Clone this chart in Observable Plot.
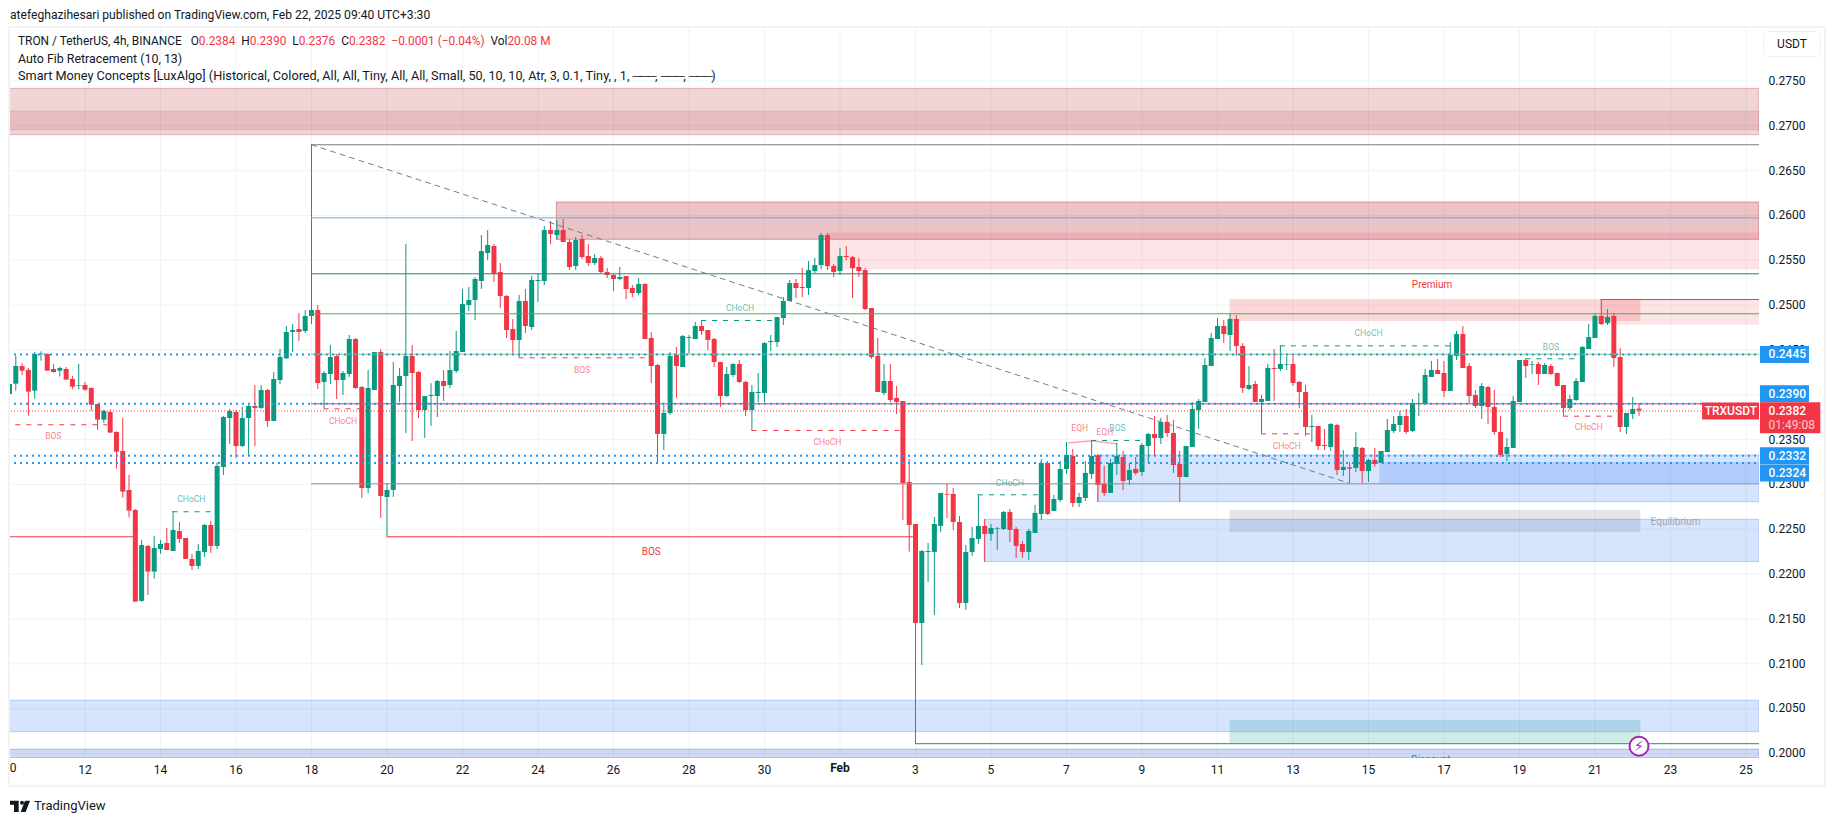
<!DOCTYPE html>
<html><head><meta charset="utf-8">
<script src="https://cdn.jsdelivr.net/npm/d3@7"></script>
<script src="https://cdn.jsdelivr.net/npm/@observablehq/plot@0.6"></script>
<style>
html,body{margin:0;padding:0;background:#fff;width:1835px;height:821px;overflow:hidden;font-family:Roboto,sans-serif;color:#131722}
#top{height:26px;line-height:30px;padding-left:10px;font-size:12.1px;color:#131722;white-space:nowrap}
#wrap{position:relative;width:1835px;height:764px}
#wrap svg{display:block}
#frame{position:absolute;left:8px;top:0;width:1818px;height:761px;box-sizing:border-box;border:2px solid #f3f3f3;pointer-events:none}
#legend{position:absolute;left:18px;top:7px;line-height:17px;white-space:pre;color:#131722}
#legend b{font-weight:400;color:#f23645}
#legend i{font-style:normal;letter-spacing:-1.5px}
#legend div:nth-child(1){font-size:11.9px}
#legend div:nth-child(2){font-size:12.4px}
#legend div:nth-child(3){font-size:12.7px}
#unit{position:absolute;left:1763px;top:5px;width:58px;height:26px;box-sizing:border-box;border:1px solid #eeeff2;border-radius:5px;text-align:center;font-size:12px;line-height:25px}
#foot{height:31px;display:flex;align-items:center;padding-left:10px;font-size:13px;color:#131722;gap:4px}
</style></head><body>
<div id="top">atefeghazihesari published on TradingView.com, Feb 22, 2025 09:40 UTC+3:30</div>
<div id="wrap">
<div id="legend"><div>TRON / TetherUS, 4h, BINANCE   O<b>0.2384</b>  H<b>0.2390</b>  L<b>0.2376</b>  C<b>0.2382</b>  <b>−0.0001 (−0.04%)</b>  Vol<b>20.08 M</b></div><div>Auto Fib Retracement (10, 13)</div><div>Smart Money Concepts [LuxAlgo] (Historical, Colored, All, All, Tiny, All, All, Small, 50, 10, 10, Atr, 3, 0.1, Tiny, , 1, <i>───</i>, <i>───</i>, <i>───</i>)</div></div>
<div id="unit">USDT</div>
<div id="frame"></div>
</div>
<div id="foot"><svg width="20" height="14" viewBox="0 0 30 20"><path d="M13 2H0v6h6v11h7zM30 2h-7.5l-6.5 17h7.5z" fill="#131722"/><circle cx="18" cy="5" r="3" fill="#131722"/></svg><span>TradingView</span></div>
<script>
// ---- candles, 4h bars from Jan 10 (one bar every 4 hours, 6 bars per day) ----
const open=[
.24004,.24119,.24316,.24271,.24041,.24446,.24450,.24283,.24264,.24283,
.24171,.24097,.24104,.24071,.23892,.23718,.23803,.23580,.23368,.22933,
.22710,.21696,.22309,.22023,.22275,.22342,.22253,.22476,.22398,.22164,
.22086,.22242,.22543,.22309,.23190,.23736,.23803,.23424,.23736,.23870,
.23848,.24048,.23703,.24160,.24402,.24695,.24729,.24706,.24874,.24940,
.24138,.24227,.24427,.24160,.24227,.24617,.24082,.22955,.24048,.24472,
.22855,.22933,.24093,.24204,.24427,.24249,.23825,.23981,.23981,.24149,
.24104,.24260,.24472,.24996,.25052,.25264,.25576,.25654,.25364,.25096,
.24729,.24606,.25041,.24751,.25264,.25264,.25832,.25777,.25832,.25699,
.25431,.25732,.25543,.25464,.25520,.25364,.25331,.25286,.25320,.25186,
.25130,.25230,.24628,.24327,.23558,.23792,.24439,.24305,.24628,.24617,
.24762,.24717,.24617,.24361,.23981,.24216,.24338,.24138,.23825,.24015,
.24015,.24583,.24583,.24851,.25041,.25241,.25197,.25186,.25375,.25442,
.25777,.25431,.25375,.25543,.25531,.25420,.25386,.24963,.24427,.24015,
.24149,.23959,.23926,.23022,.22554,.21450,.22242,.22242,.22532,.22889,
.22889,.22576,.21673,.22242,.22387,.22532,.22443,.22502,.22498,.22688,
.22499,.22331,.22242,.22454,.22666,.23234,.22699,.22822,.23168,.23313,
.22788,.22844,.23112,.23320,.23000,.22900,.23223,.23301,.23045,.23168,
.23134,.23424,.23558,.23513,.23692,.23569,.23223,.23078,.23413,.23825,
.23915,.24316,.24617,.24762,.24662,.24840,.24539,.24060,.24115,.23915,
.23926,.24294,.24283,.24331,.24338,.24138,.24026,.23636,.23647,.23435,
.23413,.23658,.23156,.23186,.23179,.23402,.23145,.23268,.23234,.23357,
.23591,.23658,.23758,.23591,.23892,.23892,.24193,.24271,.24238,.24037,
.24428,.24673,.24316,.23993,.23870,.24082,.23859,.23580,.23335,.23402,
.23915,.24383,.24331,.24338,.24227,.24316,.24238,.24104,.23848,.23937,
.24138,.24506,.24628,.24874,.24796,.24874,.24416,.23636,.23781,.23840];
const close=[
.24115,.24316,.24264,.24030,.24450,.24454,.24264,.24249,.24294,.24164,
.24086,.24104,.24052,.23885,.23718,.23814,.23573,.23361,.22915,.22703,
.21688,.22320,.22023,.22287,.22331,.22264,.22487,.22387,.22164,.22086,
.22253,.22543,.22309,.23201,.23747,.23814,.23424,.23736,.23870,.23848,
.24048,.23703,.24171,.24416,.24695,.24717,.24695,.24874,.24940,.24126,
.24238,.24416,.24160,.24238,.24617,.24071,.22955,.24071,.24472,.22866,
.22933,.24104,.24204,.24427,.24238,.23825,.23981,.23993,.24149,.24093,
.24271,.24483,.25007,.25052,.25286,.25598,.25665,.25342,.25096,.24717,
.24606,.25041,.24762,.25275,.25275,.25832,.25788,.25832,.25699,.25420,
.25721,.25531,.25464,.25520,.25364,.25331,.25286,.25308,.25175,.25130,
.25230,.24617,.24316,.23558,.23792,.24427,.24316,.24650,.24639,.24762,
.24706,.24606,.24361,.23981,.24227,.24338,.24138,.23825,.24026,.24026,
.24572,.24595,.24862,.25041,.25241,.25186,.25186,.25386,.25442,.25777,
.25431,.25364,.25543,.25531,.25409,.25375,.24952,.24416,.24026,.24149,
.23937,.23915,.23011,.22543,.21450,.22253,.22253,.22554,.22900,.22881,
.22576,.21673,.22242,.22398,.22532,.22443,.22509,.22509,.22688,.22487,
.22309,.22242,.22476,.22677,.23234,.22666,.22833,.23168,.23324,.22788,
.22855,.23123,.23313,.22989,.22900,.23234,.23313,.23034,.23156,.23123,
.23435,.23558,.23513,.23692,.23569,.23212,.23078,.23424,.23837,.23926,
.24327,.24628,.24762,.24673,.24840,.24539,.24071,.24104,.23915,.23948,
.24294,.24283,.24338,.24338,.24126,.24026,.23636,.23647,.23424,.23424,
.23669,.23156,.23190,.23171,.23413,.23145,.23268,.23223,.23368,.23602,
.23669,.23758,.23580,.23903,.23903,.24216,.24271,.24227,.24037,.24439,
.24673,.24294,.23981,.23870,.24093,.23859,.23580,.23324,.23413,.23926,
.24383,.24316,.24338,.24227,.24327,.24227,.24093,.23848,.23948,.24149,
.24528,.24639,.24874,.24784,.24862,.24405,.23636,.23792,.23837,.23820];
const high=[
.24123,.24428,.24346,.24294,.24472,.24480,.24457,.24338,.24309,.24305,
.24205,.24338,.24138,.24078,.23892,.23833,.23833,.23588,.23736,.23101,
.22721,.22376,.22320,.22420,.22376,.22510,.22699,.22576,.22398,.22220,
.22331,.22554,.22588,.23242,.23759,.23837,.23825,.23859,.23881,.24104,
.24104,.24060,.24249,.24506,.24762,.24784,.24907,.24940,.26789,.24996,
.24260,.24550,.24450,.24260,.24662,.24628,.24093,.24271,.24472,.24505,
.23011,.24361,.24294,.25676,.24550,.24260,.23981,.24126,.24160,.24271,
.24483,.24706,.25175,.25197,.25308,.25777,.25832,.25676,.25464,.25108,
.24840,.25108,.25175,.25320,.25353,.25877,.25933,.25944,.25955,.25732,
.25754,.25777,.25676,.25565,.25543,.25409,.25342,.25420,.25320,.25219,
.25297,.25241,.24695,.24338,.23881,.24472,.24528,.24662,.24662,.24807,
.24829,.24717,.24628,.24361,.24305,.24349,.24383,.24149,.24104,.24238,
.24583,.24662,.24862,.25085,.25275,.25286,.25409,.25487,.25520,.25799,
.25799,.25453,.25632,.25654,.25543,.25520,.25409,.24963,.24628,.24338,
.24338,.24093,.23926,.23279,.22554,.22264,.22342,.22632,.22900,.23000,
.22955,.22643,.22320,.22521,.22889,.22610,.22554,.22521,.22699,.22722,
.22521,.22365,.22499,.22766,.23279,.23257,.22878,.23257,.23469,.23391,
.22900,.23257,.23491,.23335,.23201,.23279,.23458,.23368,.23234,.23301,
.23458,.23569,.23759,.23736,.23770,.23714,.23368,.23424,.23915,.23948,
.24405,.24684,.24851,.24829,.24903,.24885,.24572,.24316,.24149,.23993,
.24338,.24506,.24546,.24428,.24428,.24149,.24104,.23770,.23647,.23614,
.23680,.23669,.23379,.23245,.23580,.23413,.23279,.23402,.23368,.23725,
.23758,.23814,.23837,.23948,.24015,.24283,.24372,.24394,.24372,.24584,
.24706,.24762,.24349,.24048,.24126,.24093,.24048,.23758,.23513,.23981,
.24383,.24394,.24372,.24361,.24349,.24338,.24238,.24104,.23993,.24182,
.24539,.24784,.24907,.25063,.24952,.24907,.24517,.23792,.23970,.23900];
const low=[
.24004,.24041,.24216,.23762,.23952,.24375,.24264,.24242,.24197,.24164,
.24056,.24056,.24041,.23818,.23606,.23680,.23573,.23171,.22848,.22625,
.21688,.21688,.21762,.21945,.22220,.22264,.22253,.22342,.22164,.22041,
.22052,.22186,.22231,.22275,.23101,.23446,.23290,.23413,.23312,.23424,
.23837,.23636,.23703,.24115,.24394,.24472,.24595,.24684,.24784,.24059,
.23844,.24115,.23948,.23993,.24193,.24059,.22844,.22900,.24048,.22621,
.22416,.22855,.23915,.23569,.23480,.23736,.23513,.23647,.23747,.23926,
.24071,.24238,.24472,.24929,.24829,.25175,.25498,.25253,.24963,.24628,
.24461,.24416,.24684,.24717,.25030,.25219,.25676,.25721,.25699,.25386,
.25386,.25509,.25431,.25442,.25353,.25297,.25152,.25275,.25063,.25085,
.25108,.24617,.24126,.23234,.23379,.23770,.23959,.24305,.24457,.24617,
.24662,.24494,.24305,.23859,.23970,.24193,.24126,.23758,.23602,.23915,
.23915,.24483,.24528,.24773,.25041,.25074,.25085,.25108,.25353,.25398,
.25386,.25308,.25331,.25498,.25074,.25308,.24940,.24394,.24026,.23993,
.23915,.23781,.22599,.22246,.20108,.20982,.21907,.21539,.22465,.22621,
.22487,.21617,.21595,.22197,.22331,.22130,.22365,.22264,.22487,.22354,
.22175,.22175,.22153,.22454,.22599,.22655,.22699,.22800,.23112,.22744,
.22744,.22811,.23056,.22800,.22867,.22900,.23101,.22933,.22989,.23101,
.23090,.23234,.23324,.23446,.23524,.23123,.22800,.23078,.23413,.23614,
.23915,.24316,.24617,.24572,.24483,.24428,.24015,.24048,.23915,.23565,
.23926,.23926,.24260,.24271,.24093,.23848,.23535,.23468,.23379,.23379,
.23368,.23101,.23089,.23011,.23134,.23011,.23022,.23190,.23234,.23357,
.23569,.23580,.23558,.23580,.23758,.23881,.24193,.24227,.23970,.24037,
.24383,.24294,.23903,.23848,.23725,.23669,.23547,.23301,.23257,.23402,
.23915,.24182,.24227,.24104,.24227,.24216,.24093,.23762,.23825,.23926,
.24138,.24506,.24628,.24773,.24773,.24305,.23580,.23558,.23725,.23760];

// ---- axes ----
const xMin=-0.159, xMax=278.15, yMin=.19944, yMax=.28108;
const priceTicks=[.2000,.2050,.2100,.2150,.2200,.2250,.2300,.2350,.2400,.2450,.2500,.2550,.2600,.2650,.2700,.2750];
const tickBars=[0,12,24,36,48,60,72,84,96,108,120,132,144,156,168,180,192,204,216,228,240,252,264,276];
const tickLabels=["","12","14","16","18","20","22","24","26","28","30","","3","5","7","9","11","13","15","17","19","21","23","25"];

// ---- order blocks and zones: [bar from, bar to, price top, price bottom] ----
const zoneFrom=[xMin,xMin,87,130,194,253,194,194,xMin,xMin,155,173,217.8];
const zoneTo  =[xMax,xMax,xMax,xMax,259.3,xMax,259.3,259.3,xMax,xMax,xMax,xMax,xMax];
const zoneTop =[.27413,.27160,.26145,.25799,.25063,.25063,.22710,.20368,.20588,.20042,.22606,.23324,.23246];
const zoneBot =[.26896,.26949,.25729,.25401,.24818,.24777,.22465,.20109,.20238,yMin,.22134,.22803,.23008];
const zoneFill=["#b22833","#b22833","#b22833","#f23645","#f23645","#f23645","#787b86","#089981","#3179f5","#1848cc","#3179f5","#3179f5","#3179f5"];
const zoneAlpha=[.2,.13,.28,.13,.2,.13,.2,.2,.2,.2,.2,.2,.22];
const zoneEdge=[.3,.12,.4,.1,0,0,0,0,.3,.3,.3,.3,0];

// ---- fib and structure levels ----
const levelPrice=[.26789,.25974,.25350,.24904,.24453,.23900,.23008,.20109,.22417,.22417,.25063];
const levelFrom =[48,48,48,48,48,48,48,144,xMin,60,253];
const levelTo   =[xMax,xMax,xMax,xMax,xMax,xMax,xMax,xMax,20,144,xMax];
const levelColor=["#787b86","#6fa8dc","#1a8a72","#4caf50","#81c784","#f23645","#8a91b8","#089981","#f23645","#f23645","#f23645"];

const dashPrice=[.23666,.22696,.23844,.24413,.24829,.23602,.22885,.23491,.23565,.24546,.24402,.23762];
const dashFrom =[1,26,50,81,110,118,154,172,199,202,241,247];
const dashTo   =[15.6,32.1,55.8,101.4,121.3,141.6,163.6,179.8,206.8,229,249.2,255];
const dashColor=["#f23645","#089981","#f23645","#f23645","#089981","#f23645","#089981","#089981","#f23645","#089981","#089981","#f23645"];

const dotPrice=[.24450,.23900,.23320,.23240];

const labelText =["BOS","CHoCH","CHoCH","BOS","CHoCH","CHoCH","CHoCH","EQH","EQH","BOS","CHoCH","CHoCH","BOS","CHoCH"];
const labelBar  =[6.95,28.9,53,91,116.1,130,159,170.1,174.1,176.1,203,216,245,251];
const labelPrice=[.23543,.22833,.23710,.24279,.24971,.23476,.23015,.23628,.23584,.23628,.23427,.24687,.24531,.23639];
const labelColor=["#f23645","#089981","#f23645","#f23645","#089981","#f23645","#089981","#f23645","#f23645","#089981","#f23645","#089981","#089981","#f23645"];

const table=(n,f)=>d3.range(n).map(f);
const bars=table(open.length,i=>({i,o:open[i],h:high[i],l:low[i],c:close[i],col:close[i]>=open[i]?"#089981":"#f23645"}));
const zones=table(zoneFrom.length,i=>({x1:zoneFrom[i],x2:zoneTo[i],y1:zoneTop[i],y2:zoneBot[i],f:zoneFill[i],a:zoneAlpha[i],e:zoneEdge[i]}));
const levels=table(levelPrice.length,i=>({y:levelPrice[i],x1:levelFrom[i],x2:levelTo[i],c:levelColor[i]}));
const dashes=table(dashPrice.length,i=>({y:dashPrice[i],x1:dashFrom[i],x2:dashTo[i],c:dashColor[i]}));
const labels=table(labelText.length,i=>({t:labelText[i],x:labelBar[i],y:labelPrice[i],c:labelColor[i]}));

const trend=[{x:48,y:.26789},{x:213,y:.23012}];
const eqh=[{x:168.4,y:.23465},{x:172,y:.23487},{x:176,y:.23454}];
const tags=[{y:.2445,t:"0.2445",dy:0},{y:.2390,t:"0.2390",dy:-10},{y:.2332,t:"0.2332",dy:0},{y:.2324,t:"0.2324",dy:10}];
const tagFrom=278.3,tagTo=286.1,tagText=279.6;
const last=.2382;

const node=Plot.plot({
  width:1835,height:764,marginLeft:8,marginRight:76,marginTop:0,marginBottom:32,
  x:{domain:[xMin,xMax]},y:{domain:[yMin,yMax]},
  style:{fontFamily:"Roboto, sans-serif",fontSize:"12px",color:"#131722",background:"transparent"},
  marks:[
    Plot.ruleX(tickBars,{x:d=>d,stroke:"#f1f2f4"}),
    Plot.ruleY(priceTicks,{y:d=>d,stroke:"#f1f2f4"}),
    Plot.rect(zones,{x1:"x1",x2:"x2",y1:"y1",y2:"y2",fill:"f",fillOpacity:"a",stroke:"f",strokeOpacity:"e",clip:"frame"}),
    Plot.ruleX(bars,{x:"i",y1:"l",y2:"h",stroke:"col",strokeWidth:1}),
    Plot.ruleX(bars,{x:"i",y1:"o",y2:"c",stroke:"col",strokeWidth:5,clip:"frame"}),
    Plot.line(trend,{x:"x",y:"y",stroke:"#787b86",strokeWidth:1,strokeDasharray:"5,5"}),
    Plot.ruleY(levels,{y:"y",x1:"x1",x2:"x2",stroke:"c",strokeWidth:1}),
    Plot.ruleY(dotPrice,{y:d=>d,x1:xMin,x2:xMax,stroke:"#2196f3",strokeWidth:2,strokeDasharray:"2,4"}),
    Plot.ruleY([last],{y:d=>d,x1:xMin,x2:xMax,stroke:"#f23645",strokeWidth:1,strokeDasharray:"1,2"}),
    Plot.ruleY(dashes,{y:"y",x1:"x1",x2:"x2",stroke:"c",strokeWidth:1,strokeDasharray:"5,6"}),
    Plot.line(eqh,{x:"x",y:"y",stroke:"#f23645",strokeOpacity:.5,strokeWidth:1.5,strokeDasharray:"1,1.5"}),
    Plot.text(labels,{x:"x",y:"y",text:"t",fill:"c",fillOpacity:.65,fontSize:8.5}),
    Plot.text(["BOS"],{x:102,y:.22253,text:d=>d,fill:"#f23645",fontSize:10}),
    Plot.text(["Premium"],{x:226.1,y:.25230,text:d=>d,fill:"#f23645",fontSize:10}),
    Plot.text(["Equilibrium"],{x:264.8,y:.22587,text:d=>d,fill:"#787b86",fillOpacity:.6,fontSize:10}),
    Plot.text(["Discount"],{x:225.9,y:.19933,text:d=>d,fill:"#089981",fontSize:10,clip:"frame"}),
    Plot.dot([.20082],{x:259,y:d=>d,r:9.5,fill:"#fff",stroke:"#9c27b0",strokeWidth:2}),
    Plot.text(["\u26A1"],{x:259,y:.20082,text:d=>d,fill:"#9c27b0",fontSize:14,fontFamily:"DejaVu Sans"}),
    Plot.axisX({ticks:tickBars,tickFormat:d=>tickLabels[tickBars.indexOf(d)],tickSize:0,tickPadding:7,label:null,anchor:"bottom"}),
    Plot.text(["Feb"],{x:132,text:d=>d,frameAnchor:"bottom",dy:13,fontWeight:"bold",fill:"#131722"}),
    Plot.text(["0"],{x:0,text:d=>d,frameAnchor:"bottom",dy:13,dx:3.5,fill:"#131722"}),
    Plot.axisY({ticks:priceTicks,tickFormat:d=>d.toFixed(4),tickSize:0,tickPadding:9,label:null,anchor:"right"}),
    // price tags on the scale
    ...tags.map(t=>Plot.ruleY([t],{y:"y",dy:t.dy,x1:tagFrom,x2:tagTo,stroke:"#2196f3",strokeWidth:17})),
    ...tags.map(t=>Plot.text([t],{x:tagText,y:"y",dy:t.dy,text:"t",fill:"#fff",textAnchor:"start",fontWeight:500})),
    Plot.ruleY([last],{y:d=>d,dy:6.7,x1:tagFrom,x2:287.9,stroke:"#f23645",strokeWidth:31}),
    Plot.ruleY([last],{y:d=>d,x1:269.1,x2:278.15,stroke:"#f23645",strokeWidth:17}),
    Plot.text(["TRXUSDT"],{x:273.6,y:last,text:d=>d,fill:"#fff",fontWeight:500}),
    Plot.text([last],{x:tagText,y:d=>d,text:d=>d.toFixed(4),fill:"#fff",textAnchor:"start",fontWeight:500}),
    Plot.text(["01:49:08"],{x:tagText,y:last,dy:14,text:d=>d,fill:"#fff",fillOpacity:.75,textAnchor:"start"})
  ]
});
const wrap=document.getElementById("wrap");
wrap.insertBefore(node,wrap.firstChild);
</script>
</body></html>
